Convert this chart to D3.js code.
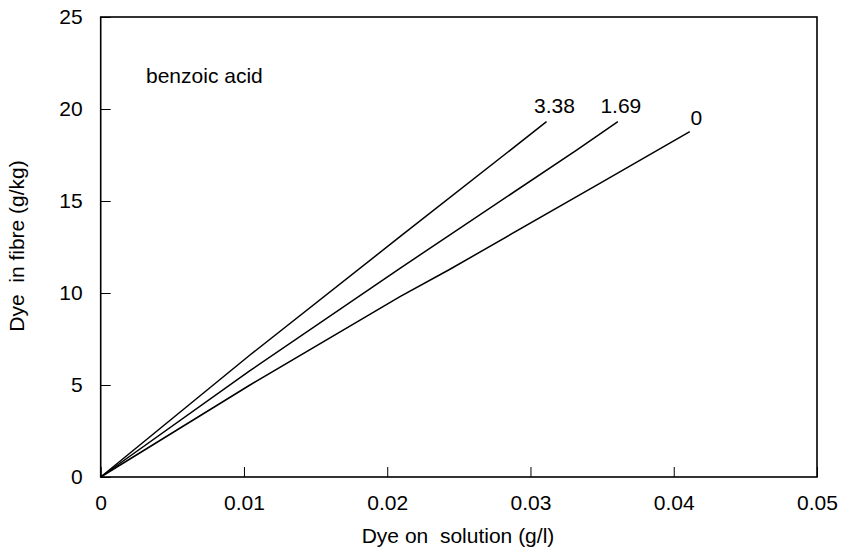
<!DOCTYPE html>
<html>
<head>
<meta charset="utf-8">
<script src="https://cdn.jsdelivr.net/npm/d3@7"></script>
<style>
  html, body { margin: 0; padding: 0; background: #fff; }
  svg { display: block; }
  text { font-family: "Liberation Sans", Arial, sans-serif; fill: #000; }
</style>
</head>
<body>
<svg id="chart" width="845" height="557"></svg>
<script>
// Adsorption isotherms: dye in fibre vs dye in solution, at three benzoic acid levels
const seriesNames = ["3.38", "1.69", "0"];
const solution338 = [0, 0.01042, 0.02089, 0.03112];
const fibre338    = [0, 6.63, 13.06, 19.31];
const solution169 = [0, 0.01042, 0.02089, 0.03322, 0.0361];
const fibre169    = [0, 5.78, 11.34, 17.77, 19.31];
const solution0   = [0, 0.01042, 0.02089, 0.02438, 0.03484, 0.04112];
const fibre0      = [0, 5.0, 9.80, 11.29, 15.96, 18.77];
const xTicks = [0, 0.01, 0.02, 0.03, 0.04, 0.05];
const xTickLabels = ["0", "0.01", "0.02", "0.03", "0.04", "0.05"];
const yTicks = [0, 5, 10, 15, 20, 25];
const yTickLabels = ["0", "5", "10", "15", "20", "25"];

const series = [
  { name: seriesNames[0], xs: solution338, ys: fibre338, dx: 8,   dy: -9 },
  { name: seriesNames[1], xs: solution169, ys: fibre169, dx: 3,   dy: -9 },
  { name: seriesNames[2], xs: solution0,   ys: fibre0,   dx: 6.5, dy: -7 }
];

const svg = d3.select("#chart");
const plotLeft = 100.7, plotRight = 817, plotTop = 17, plotBottom = 477;

const x = d3.scaleLinear().domain([0, 0.05]).range([plotLeft, plotRight]);
const y = d3.scaleLinear().domain([0, 25]).range([plotBottom, plotTop]);

const fontSize = 21;

// frame
svg.append("rect")
  .attr("x", plotLeft).attr("y", plotTop)
  .attr("width", plotRight - plotLeft).attr("height", plotBottom - plotTop)
  .attr("fill", "none").attr("stroke", "#000").attr("stroke-width", 1.6);

// x axis (ticks pointing inward)
const xAxis = d3.axisBottom(x)
  .tickValues(xTicks)
  .tickFormat((d, i) => xTickLabels[i])
  .tickSizeInner(-10).tickSizeOuter(0).tickPadding(18);
const gx = svg.append("g").attr("transform", `translate(0,${plotBottom})`).call(xAxis);
gx.select(".domain").remove();
gx.selectAll(".tick line").attr("stroke", "#000").attr("stroke-width", 1);
gx.selectAll(".tick text")
  .attr("font-size", fontSize)
  .attr("font-family", "Liberation Sans, Arial, sans-serif");

// y axis (ticks pointing inward)
const yAxis = d3.axisLeft(y)
  .tickValues(yTicks)
  .tickFormat((d, i) => yTickLabels[i])
  .tickSizeInner(-10).tickSizeOuter(0).tickPadding(18);
const gy = svg.append("g").attr("transform", `translate(${plotLeft},0)`).call(yAxis);
gy.select(".domain").remove();
gy.selectAll(".tick line").attr("stroke", "#000").attr("stroke-width", 1);
gy.selectAll(".tick text")
  .attr("font-size", fontSize)
  .attr("font-family", "Liberation Sans, Arial, sans-serif");

// isotherm curves
const line = d3.line().x(d => x(d[0])).y(d => y(d[1]));
series.forEach(s => {
  const pts = s.xs.map((v, i) => [v, s.ys[i]]);
  svg.append("path")
    .datum(pts)
    .attr("d", line)
    .attr("fill", "none")
    .attr("stroke", "#000")
    .attr("stroke-width", 1.5);
  const last = pts[pts.length - 1];
  svg.append("text")
    .attr("x", x(last[0]) + s.dx)
    .attr("y", y(last[1]) + s.dy)
    .attr("text-anchor", "middle")
    .attr("font-size", fontSize)
    .text(s.name);
});

// annotation
svg.append("text")
  .attr("x", 146).attr("y", 83)
  .attr("font-size", fontSize)
  .text("benzoic acid");

// axis titles
svg.append("text")
  .attr("x", 458).attr("y", 543)
  .attr("text-anchor", "middle")
  .attr("font-size", fontSize)
  .style("white-space", "pre")
  .text("Dye on  solution (g/l)");

svg.append("text")
  .attr("transform", "translate(24,246) rotate(-90)")
  .attr("text-anchor", "middle")
  .attr("font-size", fontSize)
  .style("white-space", "pre")
  .text("Dye  in fibre (g/kg)");
</script>
</body>
</html>
